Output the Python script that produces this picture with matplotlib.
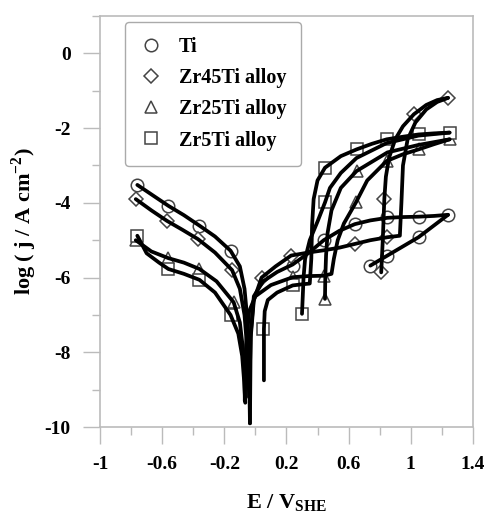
import matplotlib
matplotlib.use('Agg')
import matplotlib.pyplot as plt
from matplotlib.lines import Line2D
from matplotlib.ticker import MultipleLocator

plt.rcParams['font.family'] = ['Liberation Serif', 'DejaVu Serif']
plt.rcParams['font.weight'] = 'bold'
plt.rcParams['mathtext.fontset'] = 'custom'
plt.rcParams['mathtext.rm'] = 'Liberation Serif:bold'
plt.rcParams['mathtext.bf'] = 'Liberation Serif:bold'

labels = ['Ti', 'Zr45Ti alloy', 'Zr25Ti alloy', 'Zr5Ti alloy']
markers = ['o', 'D', '^', 's']

# Ti
ti_cath_E = [-0.76, -0.66, -0.56, -0.46, -0.36, -0.26, -0.16, -0.10, -0.07, -0.05, -0.04, -0.035]
ti_cath_j = [-3.52, -3.8, -4.08, -4.33, -4.61, -4.9, -5.28, -5.7, -6.3, -7.2, -8.5, -9.9]
ti_anod_E = [-0.035, -0.03, -0.01, 0.05, 0.14, 0.24, 0.34, 0.44, 0.54, 0.64, 0.74, 0.85, 0.95, 1.05, 1.15, 1.24]
ti_anod_j = [-9.9, -7.5, -6.5, -6.1, -5.85, -5.65, -5.35, -5.0, -4.75, -4.57, -4.47, -4.4, -4.38, -4.37, -4.35, -4.32]
ti_rev_E = [1.24, 1.05, 0.85, 0.74]
ti_rev_j = [-4.32, -4.92, -5.41, -5.68]
ti_mk_E = [-0.76, -0.56, -0.36, -0.16, 0.24, 0.44, 0.64, 0.85, 1.05, 1.24, 1.05, 0.85, 0.74]
ti_mk_j = [-3.52, -4.08, -4.61, -5.28, -5.68, -5.0, -4.57, -4.39, -4.37, -4.32, -4.92, -5.41, -5.68]

# Zr45Ti
z45_cath_E = [-0.77, -0.67, -0.57, -0.47, -0.37, -0.26, -0.15, -0.10, -0.07, -0.055, -0.045, -0.04]
z45_cath_j = [-3.9, -4.2, -4.48, -4.72, -4.97, -5.33, -5.8, -6.3, -7.0, -7.8, -8.6, -9.2]
z45_anod_E = [-0.04, -0.03, -0.01, 0.04, 0.13, 0.23, 0.34, 0.44, 0.54, 0.64, 0.74, 0.85, 0.93, 0.94, 0.95, 0.98, 1.03, 1.10, 1.17, 1.24]
z45_anod_j = [-9.2, -7.6, -6.6, -6.0, -5.7, -5.41, -5.33, -5.27, -5.2, -5.1, -5.0, -4.92, -4.88, -4.0, -3.0, -2.3, -1.85, -1.5, -1.3, -1.19]
z45_rev_E = [1.24, 1.17, 1.10, 1.02, 0.95, 0.90, 0.86, 0.84, 0.83, 0.82, 0.81]
z45_rev_j = [-1.19, -1.25, -1.38, -1.63, -1.95, -2.3, -2.8, -3.3, -3.9, -5.0, -5.86]
z45_mk_E = [-0.77, -0.57, -0.37, -0.15, 0.04, 0.23, 0.64, 0.85, 1.24, 1.02, 0.83, 0.81]
z45_mk_j = [-3.9, -4.48, -4.97, -5.8, -6.0, -5.41, -5.1, -4.92, -1.19, -1.63, -3.9, -5.86]

# Zr25Ti
z25_cath_E = [-0.77, -0.67, -0.56, -0.46, -0.36, -0.25, -0.14, -0.10, -0.08, -0.07, -0.068]
z25_cath_j = [-5.0, -5.3, -5.48, -5.6, -5.77, -6.1, -6.66, -7.2, -7.9, -8.7, -9.3]
z25_anod_E = [-0.068, -0.06, -0.04, 0.0, 0.10, 0.24, 0.34, 0.44, 0.49, 0.505, 0.53, 0.57, 0.647, 0.72, 0.845, 0.95, 1.05, 1.15, 1.25]
z25_anod_j = [-9.3, -7.8, -6.9, -6.5, -6.2, -5.99, -5.96, -5.95, -5.9, -5.5, -5.0, -4.55, -3.99, -3.4, -2.88, -2.7, -2.57, -2.43, -2.3]
z25_rev_E = [1.25, 1.05, 0.85, 0.651, 0.55, 0.49, 0.465, 0.455, 0.45, 0.448]
z25_rev_j = [-2.3, -2.45, -2.65, -3.15, -3.6, -4.2, -4.8, -5.4, -6.0, -6.57]
z25_mk_E = [-0.77, -0.56, -0.36, -0.14, 0.24, 0.44, 0.647, 0.845, 1.05, 1.25, 0.651, 0.448]
z25_mk_j = [-5.0, -5.48, -5.77, -6.66, -5.99, -5.95, -3.99, -2.88, -2.57, -2.3, -3.15, -6.57]

# Zr5Ti
z5_cath_E = [-0.76, -0.70, -0.62, -0.56, -0.46, -0.36, -0.26, -0.16, -0.11, -0.085, -0.072, -0.065]
z5_cath_j = [-4.88, -5.35, -5.6, -5.77, -5.9, -6.06, -6.4, -7.0, -7.5, -8.1, -8.8, -9.35]
z5_anod_E = [0.055, 0.055, 0.06, 0.08, 0.14, 0.24, 0.30, 0.35, 0.36, 0.365, 0.375, 0.40, 0.448, 0.55, 0.651, 0.75, 0.845, 0.95, 1.05, 1.15, 1.25]
z5_anod_j = [-8.75, -7.37, -6.9, -6.6, -6.4, -6.21, -6.18, -6.16, -5.5, -4.6, -3.9, -3.4, -3.06, -2.75, -2.57, -2.42, -2.3, -2.23, -2.17, -2.14, -2.12]
z5_rev_E = [1.25, 1.05, 0.845, 0.651, 0.55, 0.48, 0.448, 0.40, 0.35, 0.32, 0.31, 0.305, 0.30]
z5_rev_j = [-2.12, -2.2, -2.4, -2.8, -3.2, -3.6, -3.99, -4.5, -5.0, -5.5, -6.0, -6.5, -6.97]
z5_mk_E = [-0.76, -0.56, -0.36, -0.16, 0.05, 0.244, 0.448, 0.651, 0.845, 1.05, 1.25, 0.448, 0.30]
z5_mk_j = [-4.88, -5.77, -6.06, -7.0, -7.37, -6.21, -3.06, -2.57, -2.3, -2.17, -2.12, -3.99, -6.97]

curves = [
    [(ti_cath_E, ti_cath_j), (ti_anod_E, ti_anod_j), (ti_rev_E, ti_rev_j)],
    [(z45_cath_E, z45_cath_j), (z45_anod_E, z45_anod_j), (z45_rev_E, z45_rev_j)],
    [(z25_cath_E, z25_cath_j), (z25_anod_E, z25_anod_j), (z25_rev_E, z25_rev_j)],
    [(z5_cath_E, z5_cath_j), (z5_anod_E, z5_anod_j), (z5_rev_E, z5_rev_j)],
]
marks = [(ti_mk_E, ti_mk_j), (z45_mk_E, z45_mk_j), (z25_mk_E, z25_mk_j), (z5_mk_E, z5_mk_j)]

fig = plt.figure(figsize=(4.88, 5.17), dpi=100)
ax = fig.add_axes([0.205, 0.174, 0.764, 0.795])

mk_sizes = {'o': 9, 'D': 7, '^': 9, 's': 9}
for (mE, mj), m in zip(marks, markers):
    ax.plot(mE, mj, ls='none', marker=m, ms=mk_sizes[m], mfc='white',
            mec='#444444', mew=1.1, zorder=2)
for segs in curves:
    for E, j in segs:
        ax.plot(E, j, color='black', lw=2.7, solid_joinstyle='round',
                solid_capstyle='round', zorder=3)

ax.set_xlim(-1, 1.4)
ax.set_ylim(-10, 1)
ax.xaxis.set_minor_locator(MultipleLocator(0.2))
ax.yaxis.set_minor_locator(MultipleLocator(1))
ax.set_xticks([-1, -0.6, -0.2, 0.2, 0.6, 1, 1.4])
ax.set_xticklabels(['-1', '-0.6', '-0.2', '0.2', '0.6', '1', '1.4'])
ax.set_yticks([0, -2, -4, -6, -8, -10])
ax.set_yticklabels(['0', '-2', '-4', '-6', '-8', '-10'])
ax.tick_params(which='major', length=12, width=1, color='#bbbbbb', pad=9,
               labelsize=14, direction='out')
ax.tick_params(which='minor', length=6, width=1, color='#bbbbbb', direction='out')
for s in ax.spines.values():
    s.set_color('#bbbbbb')
    s.set_linewidth(1.2)

ax.set_xlabel(r'E / V$_{\mathrm{SHE}}$', fontsize=16, fontweight='bold', labelpad=14)
ax.set_ylabel(r'log ( j / A cm$^{-2}$)', fontsize=16, fontweight='bold', labelpad=4)

handles = [Line2D([], [], ls='none', marker=m, ms=mk_sizes[m], mfc='white',
                  mec='#444444', mew=1.1) for m in markers]
leg = ax.legend(handles, labels, loc='upper left', bbox_to_anchor=(0.068, 0.985),
                prop={'family': 'Liberation Serif', 'weight': 'bold', 'size': 14.5},
                frameon=True, fancybox=True, edgecolor='#aaaaaa', framealpha=1,
                handlelength=1.0, handletextpad=0.9, labelspacing=0.55,
                borderpad=0.75, borderaxespad=0)
leg.get_frame().set_linewidth(1.0)

fig.savefig('out.png', dpi=100)
